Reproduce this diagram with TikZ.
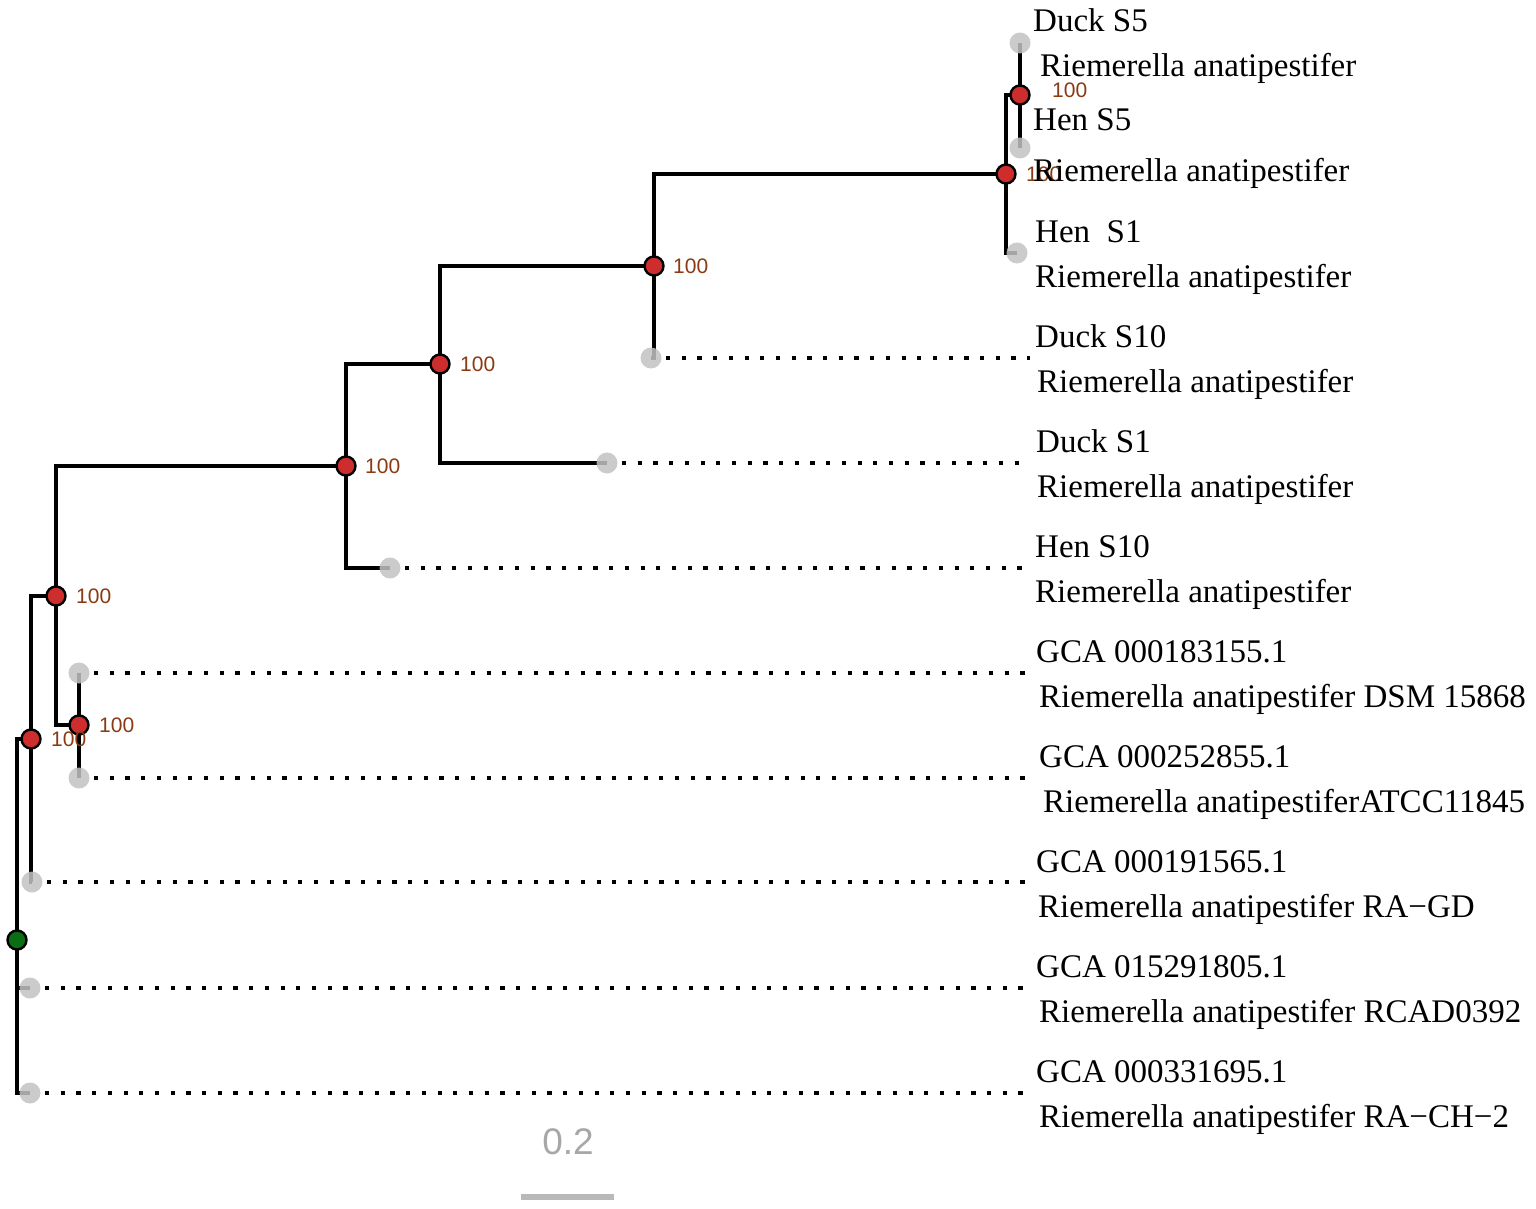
\documentclass[tikz,border=0pt]{standalone}
\usepackage{fontspec}
\setmainfont{Liberation Serif}
\newfontfamily\arialf{Liberation Sans}
\definecolor{nodered}{RGB}{205,45,45}
\definecolor{rootgreen}{RGB}{10,110,20}
\definecolor{tipgray}{RGB}{195,195,195}
\definecolor{bootbrown}{RGB}{139,58,18}
\definecolor{scalegray}{RGB}{185,185,185}
\begin{document}
\begin{tikzpicture}[x=1pt,y=-1pt,
  branch/.style={line width=3.6pt, line join=miter},
  tip/.style={circle, fill=tipgray, fill opacity=0.85, minimum size=21pt, inner sep=0pt},
  inner/.style={circle, fill=nodered, draw=black, line width=2.4pt, minimum size=19pt, inner sep=0pt},
  rootnode/.style={circle, fill=rootgreen, draw=black, line width=2.4pt, minimum size=19pt, inner sep=0pt},
  lab/.style={anchor=base west, inner sep=0pt, font=\fontsize{33}{40}\selectfont},
  boot/.style={anchor=west, inner sep=0pt, text=bootbrown, font=\arialf\fontsize{21}{24}\selectfont},
  dots/.style={line width=4.2pt, dash pattern=on 4.2pt off 11.5pt}]
\useasboundingbox (0,0) rectangle (1536,1209);
\fill[white] (0,0) rectangle (1536,1209);

% coordinates of nodes
\coordinate (c1) at (1020,95);
\coordinate (c2) at (1006,174);
\coordinate (c3) at (654,266);
\coordinate (c4) at (440,364);
\coordinate (c5) at (346,466);
\coordinate (c6) at (56,596);
\coordinate (c7) at (79,725);
\coordinate (c8) at (31,739);
\coordinate (cr) at (17,940);

\coordinate (d1) at (1020,43);
\coordinate (d2) at (1020,148);
\coordinate (d3) at (1017,253);
\coordinate (d4) at (651,358);
\coordinate (d5) at (607,463);
\coordinate (d6) at (390,568);
\coordinate (d7) at (79,673);
\coordinate (d8) at (79,778);
\coordinate (d9) at (32,882);
\coordinate (d10) at (30,988);
\coordinate (d11) at (30,1093);
\coordinate (endx) at (1030,0);

% branches
\draw[branch] (d1) -- (d2);
\draw[branch] (c2) |- (c1);
\draw[branch] (c2) |- (d3);
\draw[branch] (c3) |- (c2);
\draw[branch] (c3) |- (d4);
\draw[branch] (c4) |- (c3);
\draw[branch] (c4) |- (d5);
\draw[branch] (c5) |- (c4);
\draw[branch] (c5) |- (d6);
\draw[branch] (c6) |- (c5);
\draw[branch] (c6) |- (c7);
\draw[branch] (d7) -- (d8);
\draw[branch] (c8) |- (c6);
\draw[branch] (c8) |- (d9);
\draw[branch] (cr) |- (c8);
\draw[branch] (cr) |- (d10);
\draw[branch] (cr) |- (d11);

% dotted leaders
\foreach \t in {d4,d5,d6,d7,d8,d9,d10,d11}{
  \draw[dots] ([xshift=15pt]\t) -- (\t -| endx);
}

% tip circles
\node[tip] (t1) at (d1) {};
\node[tip] (t2) at (d2) {};
\node[tip] (t3) at (d3) {};
\node[tip] (t4) at (d4) {};
\node[tip] (t5) at (d5) {};
\node[tip] (t6) at (d6) {};
\node[tip] (t7) at (d7) {};
\node[tip] (t8) at (d8) {};
\node[tip] (t9) at (d9) {};
\node[tip] (t10) at (d10) {};
\node[tip] (t11) at (d11) {};

% internal nodes
\node[inner] (n1) at (c1) {};
\node[inner] (n2) at (c2) {};
\node[inner] (n3) at (c3) {};
\node[inner] (n4) at (c4) {};
\node[inner] (n5) at (c5) {};
\node[inner] (n6) at (c6) {};
\node[inner] (n7) at (c7) {};
\node[inner] (n8) at (c8) {};
\node[rootnode] (nr) at (cr) {};

% bootstrap labels
\node[boot] (b1) at (1052,90) {100};
\node[boot] (b2) at (1026,174) {100};
\node[boot] (b3) at (673,266) {100};
\node[boot] (b4) at (460,364) {100};
\node[boot] (b5) at (365,466) {100};
\node[boot] (b6) at (76,596) {100};
\node[boot] (b7) at (99,725) {100};
\node[boot] (b8) at (51,739) {100};

% tip labels
\node[lab] (la1) at (1033,32) {Duck S5};
\node[lab] (lb1) at (1040,77) {Riemerella anatipestifer};
\node[lab] (la2) at (1033,131) {Hen S5};
\node[lab] (lb2) at (1033,182) {Riemerella anatipestifer};
\node[lab] (la3) at (1035,242) {Hen\ \ S1};
\node[lab] (lb3) at (1035,287) {Riemerella anatipestifer};
\node[lab] (la4) at (1035,347) {Duck S10};
\node[lab] (lb4) at (1037,392) {Riemerella anatipestifer};
\node[lab] (la5) at (1036,452) {Duck S1};
\node[lab] (lb5) at (1037,497) {Riemerella anatipestifer};
\node[lab] (la6) at (1035,557) {Hen S10};
\node[lab] (lb6) at (1035,602) {Riemerella anatipestifer};
\node[lab] (la7) at (1036,662) {GCA 000183155.1};
\node[lab] (lb7) at (1039,707) {Riemerella anatipestifer DSM 15868};
\node[lab] (la8) at (1039,767) {GCA 000252855.1};
\node[lab] (lb8) at (1043,812) {Riemerella anatipestiferATCC11845};
\node[lab] (la9) at (1036,872) {GCA 000191565.1};
\node[lab] (lb9) at (1038,917) {Riemerella anatipestifer RA−GD};
\node[lab] (la10) at (1036,977) {GCA 015291805.1};
\node[lab] (lb10) at (1039,1022) {Riemerella anatipestifer RCAD0392};
\node[lab] (la11) at (1036,1082) {GCA 000331695.1};
\node[lab] (lb11) at (1039,1127) {Riemerella anatipestifer RA−CH−2};

% scale bar
\coordinate (sb1) at (521,1197);
\coordinate (sb2) at (614,1197);
\draw[line width=6pt, scalegray] (sb1) -- (sb2);
\node[inner sep=0pt, text=scalegray!90!black, font=\arialf\fontsize{37}{40}\selectfont] (sl) at (568,1142) {0.2};
\end{tikzpicture}
\end{document}
